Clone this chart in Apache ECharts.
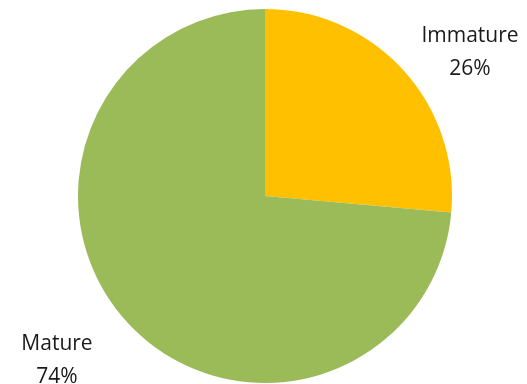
<!DOCTYPE html>
<html><head><meta charset="utf-8">
<script src="https://cdn.jsdelivr.net/npm/echarts@6/dist/echarts.min.js"></script>
<style>html,body{margin:0;padding:0;background:#fff}#c{width:527px;height:384px}</style>
</head><body><div id="c"></div>
<script>
const categories = ['Immature', 'Mature'];
const values = [26.4, 73.6];
const colors = ['#FFC000', '#9BBB59'];
const labelSpots = [[470, 53], [57, 361]];

const chart = echarts.init(document.getElementById('c'));
const total = values.reduce((a, b) => a + b, 0);
chart.setOption({
  animation: false,
  series: [{
    type: 'pie',
    center: [265, 196],
    radius: [0, 187],
    startAngle: 90,
    clockwise: true,
    data: categories.map((n, i) => ({ name: n, value: values[i], itemStyle: { color: colors[i] } })),
    label: { show: false },
    labelLine: { show: false }
  }],
  graphic: categories.map((n, i) => ({
    type: 'text',
    x: labelSpots[i][0],
    y: labelSpots[i][1],
    style: {
      text: n + '\n' + Math.round(values[i] / total * 100) + '%',
      fontFamily: 'Open Sans',
      fontSize: 21,
      lineHeight: 33,
      fill: '#1a1a1a',
      align: 'center',
      verticalAlign: 'middle'
    }
  }))
});
</script></body></html>
